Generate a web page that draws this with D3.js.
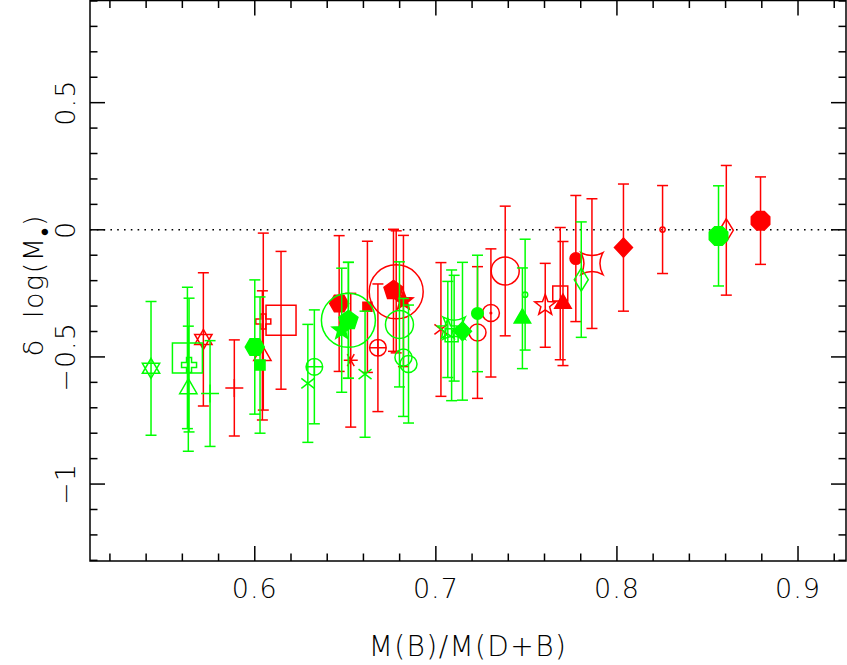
<!DOCTYPE html>
<html><head><meta charset="utf-8">
<script src="https://cdn.jsdelivr.net/npm/d3@7"></script>
<style>
html,body{margin:0;padding:0;background:#fff;}
text{font-family:"DejaVu Sans","Liberation Sans",sans-serif;fill:#000;font-weight:200;}
</style></head>
<body>
<svg id="chart" width="847" height="665"></svg>
<script>
// ---- data ----
const redX   = [0.5716,0.5887,0.6047,0.6042,0.6145,0.6466,0.6530,0.6622,0.6680,0.6766,0.6781,0.6821,0.7028,0.7230,0.7304,0.7383,0.7604,0.7687,0.7702,0.7773,0.7862,0.8036,0.8252,0.8604,0.8793];
const redY   = [-0.431,-0.622,-0.361,-0.494,-0.356,-0.290,-0.513,-0.303,-0.464,-0.238,-0.244,-0.280,-0.392,-0.404,-0.327,-0.162,-0.297,-0.251,-0.290,-0.113,-0.133,-0.070,0.001,-0.002,0.036];
const redErr = [0.262,0.189,0.348,0.254,0.271,0.267,0.263,0.258,0.251,0.240,0.240,0.258,0.263,0.259,0.252,0.255,0.165,0.260,0.244,0.248,0.255,0.250,0.173,0.255,0.172];
const redShape = ["hexagram","plus","crossOpen","triangleOpen","squareBig","hexagonFill","asterisk","squareFillSmall","circlePlus","pentagonFill","circleHuge","starFill","x","circle","circleDot","circleLarge","starOpen","squareOpen","triangleFill","circleFillSmall","astroid","diamondFill","circleTiny","diamondOpen","octFill"];

const greenX   = [0.5427,0.5628,0.5637,0.5633,0.5753,0.6000,0.6029,0.6293,0.6329,0.6480,0.6517,0.6517,0.6609,0.6799,0.6821,0.6849,0.7066,0.7101,0.7087,0.7147,0.7230,0.7478,0.7493,0.7803,0.8561];
const greenY   = [-0.545,-0.504,-0.532,-0.625,-0.644,-0.461,-0.532,-0.604,-0.539,-0.395,-0.356,-0.356,-0.568,-0.372,-0.502,-0.528,-0.392,-0.387,-0.415,-0.399,-0.329,-0.348,-0.255,-0.196,-0.024];
const greenErr = [0.263,0.278,0.263,0.246,0.208,0.264,0.268,0.232,0.224,0.244,0.228,0.228,0.248,0.246,0.232,0.232,0.189,0.208,0.257,0.271,0.229,0.198,0.218,0.227,0.197];
const greenShape = ["hexagram","squareBig","crossOpen","triangleOpen","plus","hexagonFill","squareFill","x","circlePlus","starFill","pentagonFill","circleHuge","x","circleLarge","circle","circle","starOpen","astroid","squareOpenSmall","diamondFill","circleFillSmall","triangleFill","circleTiny","diamondOpen","octFill"];

const xTicks = [0.6,0.7,0.8,0.9];
const yTicks = [-1,-0.5,0,0.5];
const yTickLabels = ["\u22121","\u22120.5","0","0.5"];
const xTitle = "M(B)/M(D+B)";

// ---- layout ----
const svg = d3.select("#chart");
const L = 90, R = 846, T = 0.5, B = 561;
const x = d3.scaleLinear().domain([0.509, 0.9265]).range([L, R]);
const y = d3.scaleLinear().domain([-1.3026, 0.9018]).range([B, T]);

const RED = "#ff0000", GREEN = "#00ff00";

// marker geometry
function poly(n, r, rot){
  const p=[]; for(let i=0;i<n;i++){const a=rot+i*2*Math.PI/n; p.push([r*Math.cos(a), r*Math.sin(a)]);}
  return "M"+p.map(d=>d[0].toFixed(2)+","+d[1].toFixed(2)).join("L")+"Z";
}
function star(R1, r1){
  const p=[]; for(let i=0;i<10;i++){const a=-Math.PI/2+i*Math.PI/5; const rr=i%2?r1:R1; p.push([rr*Math.cos(a), rr*Math.sin(a)]);}
  return "M"+p.map(d=>d[0].toFixed(2)+","+d[1].toFixed(2)).join("L")+"Z";
}
function circ(r){ return `M${-r},0A${r},${r} 0 1,0 ${r},0A${r},${r} 0 1,0 ${-r},0Z`; }
const shapes = {
  hexagram:      {d: poly(3,10,-Math.PI/2)+poly(3,10,Math.PI/2), fill:false},
  plus:          {d: "M-9,0H9M0,-9V9", fill:false},
  crossOpen:     {d: "M-2.5,-7.5H2.5V-2.5H7.5V2.5H2.5V7.5H-2.5V2.5H-7.5V-2.5H-2.5Z", fill:false},
  triangleOpen:  {d: poly(3,10,-Math.PI/2), fill:false},
  triangleFill:  {d: poly(3,9.5,-Math.PI/2), fill:true},
  squareBig:     {d: "M-15,-15H15V15H-15Z", fill:false},
  squareOpen:    {d: "M-7.5,-7.5H7.5V7.5H-7.5Z", fill:false},
  squareOpenSmall:{d: "M-6.5,-6.5H6.5V6.5H-6.5Z", fill:false},
  squareFill:    {d: "M-5,-5H5V5H-5Z", fill:true},
  squareFillSmall:{d: "M-4.5,-4.5H4.5V4.5H-4.5Z", fill:true},
  hexagonFill:   {d: poly(6,9.5,0), fill:true},
  pentagonFill:  {d: poly(5,10,-Math.PI/2), fill:true},
  octFill:       {d: poly(8,10,Math.PI/8), fill:true},
  starFill:      {d: star(10,4.2), fill:true},
  starOpen:      {d: star(11,4.6), fill:false},
  x:             {d: "M-6.5,-5L6.5,5M-6.5,5L6.5,-5", fill:false},
  asterisk:      {d: "M-7,0H7M-3.5,-6L3.5,6M-3.5,6L3.5,-6", fill:false},
  circle:        {d: circ(8.5), fill:false},
  circleLarge:   {d: circ(14), fill:false},
  circleHuge:    {d: circ(27), fill:false},
  circlePlus:    {d: circ(8.3)+"M-8.3,0H8.3M0,-8.3V8.3", fill:false},
  circleDot:     {d: circ(8.5)+"M-0.8,0a0.8,0.8 0 1,0 1.6,0a0.8,0.8 0 1,0 -1.6,0", fill:false},
  circleFillSmall:{d: circ(5.8), fill:true},
  circleTiny:    {d: circ(2.6), fill:false},
  astroid:       {d: "M-11,-11Q0,-5 11,-11Q5,0 11,11Q0,5 -11,11Q-5,0 -11,-11Z", fill:false},
  diamondFill:   {d: "M0,-9.5L9,0L0,9.5L-9,0Z", fill:true},
  diamondOpen:   {d: "M0,-11.5L7,0L0,11.5L-7,0Z", fill:false}
};

// ---- zero line ----
svg.append("line").attr("x1",L).attr("x2",R).attr("y1",y(0)).attr("y2",y(0))
  .attr("stroke","#000").attr("stroke-width",1.4).attr("stroke-dasharray","1.6,5.2");

// ---- series ----
function drawSeries(xs, ys, es, sh, color){
  const data = xs.map((v,i)=>({x:v, y:ys[i], e:es[i], s:sh[i]}));
  const g = svg.append("g");
  const cap = 5.5;
  const eb = g.selectAll("g.eb").data(data).join("g").attr("class","eb")
    .attr("stroke",color).attr("stroke-width",1.5).attr("fill","none");
  eb.append("line").attr("x1",d=>x(d.x)).attr("x2",d=>x(d.x)).attr("y1",d=>y(d.y+d.e)).attr("y2",d=>y(d.y-d.e));
  eb.append("line").attr("x1",d=>x(d.x)-cap).attr("x2",d=>x(d.x)+cap).attr("y1",d=>y(d.y+d.e)).attr("y2",d=>y(d.y+d.e));
  eb.append("line").attr("x1",d=>x(d.x)-cap).attr("x2",d=>x(d.x)+cap).attr("y1",d=>y(d.y-d.e)).attr("y2",d=>y(d.y-d.e));
  g.selectAll("path.m").data(data).join("path").attr("class","m")
    .attr("transform",d=>`translate(${x(d.x)},${y(d.y)})`)
    .attr("d",d=>shapes[d.s].d)
    .attr("fill",d=>shapes[d.s].fill?color:"none")
    .attr("stroke",color).attr("stroke-width",1.5).attr("stroke-linejoin","miter");
}
drawSeries(redX, redY, redErr, redShape, RED);
drawSeries(greenX, greenY, greenErr, greenShape, GREEN);

// ---- frame & ticks ----
const ax = svg.append("g").attr("stroke","#000").attr("stroke-width",1.5);
ax.append("rect").attr("x",L).attr("y",T).attr("width",R-L).attr("height",B-T).attr("fill","none");
const xMinor = d3.range(0.52, 0.921, 0.02);
const yMinor = d3.range(-1.3, 0.901, 0.1);
const isMajor = (v, step) => Math.abs(v/step - Math.round(v/step)) < 1e-6;
xMinor.forEach(v=>{
  const len = isMajor(v,0.1)?15:7.5;
  ax.append("line").attr("x1",x(v)).attr("x2",x(v)).attr("y1",B).attr("y2",B-len);
  ax.append("line").attr("x1",x(v)).attr("x2",x(v)).attr("y1",T).attr("y2",T+len);
});
yMinor.forEach(v=>{
  const len = isMajor(v,0.5)?15:7.5;
  ax.append("line").attr("y1",y(v)).attr("y2",y(v)).attr("x1",L).attr("x2",L+len);
  ax.append("line").attr("y1",y(v)).attr("y2",y(v)).attr("x1",R).attr("x2",R-len);
});

// ---- tick labels ----
svg.append("g").selectAll("text").data(xTicks).join("text")
  .attr("x",d=>x(d)).attr("y",598).attr("text-anchor","middle")
  .attr("font-size",27).attr("letter-spacing",1)
  .text(d=>d3.format(".1f")(d));
svg.append("g").selectAll("text").data(yTicks).join("text")
  .attr("transform",d=>`translate(75,${y(d)}) rotate(-90)`).attr("text-anchor","middle")
  .attr("font-size",27).attr("letter-spacing",1)
  .text((d,i)=>yTickLabels[i]);

// ---- titles ----
svg.append("text").attr("x",(L+R)/2).attr("y",656).attr("text-anchor","middle")
  .attr("font-size",28).attr("letter-spacing",1.4).text(xTitle);
const yt = svg.append("text").attr("transform",`translate(43,285) rotate(-90)`)
  .attr("text-anchor","middle").attr("font-size",27).attr("letter-spacing",1.5).attr("xml:space","preserve");
yt.append("tspan").text("\u03b4  log(M");
yt.append("tspan").attr("dy",6).attr("font-size",15).text("\u25cf");
yt.append("tspan").attr("dy",-6).text(")");
</script>
</body></html>
